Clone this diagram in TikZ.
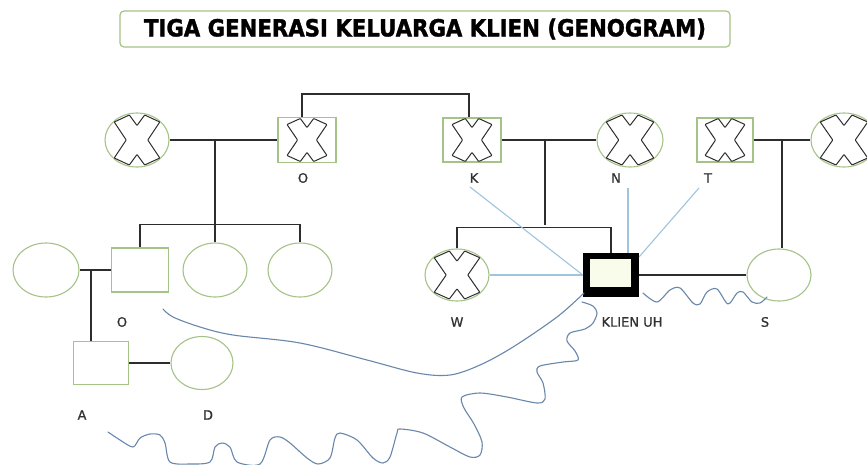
\documentclass[tikz,border=0pt]{standalone}
\usepackage{fontspec}
\usepackage{graphicx}
\setmainfont{DejaVu Sans}
\newfontfamily\lblfont[FakeBold=0.8]{DejaVu Sans}
\newfontfamily\ttlfont[FakeBold=1.5]{DejaVu Sans}
\usetikzlibrary{shapes.geometric,calc}
\definecolor{grn}{RGB}{165,195,135}
\definecolor{dk}{RGB}{45,45,45}
\definecolor{lbl}{RGB}{50,50,50}
\definecolor{lb}{RGB}{160,196,222}
\definecolor{cb}{RGB}{105,135,170}
\definecolor{cream}{RGB}{250,252,235}
\begin{document}
\begin{tikzpicture}[x=1pt,y=-1pt,
  fem/.style={ellipse,draw=grn,line width=1.1pt,fill=white,inner sep=0pt},
  mal/.style={rectangle,draw=grn,line width=1.1pt,fill=white,inner sep=0pt},
  rel/.style={draw=dk,line width=1.2pt},
  emo/.style={draw=lb,line width=1.1pt},
  wav/.style={draw=cb,line width=1.1pt,line join=round,line cap=round},
  lbl/.style={text=lbl,font=\lblfont\fontsize{13}{13}\selectfont,inner sep=0pt},
  xcross/.pic={\draw[dk,line width=1pt,fill=white,line join=round,rounded corners=0.6pt]
    (-0.95,0.72) -- (-0.32,1) -- (0,0.58) -- (0.32,1) -- (0.95,0.72) -- (0.45,0)
    -- (0.95,-0.72) -- (0.32,-1) -- (0,-0.58) -- (-0.32,-1) -- (-0.95,-0.72) -- (-0.45,0) -- cycle;}
]
\clip (0,0) rectangle (867,464);
\fill[white] (0,0) rectangle (867,464);

% title
\node[draw=grn,line width=1.2pt,rounded corners=4pt,fill=white,inner sep=0pt,
  minimum width=610pt,minimum height=36pt] (title) at (425,29)
  {\resizebox*{562pt}{21pt}{\ttlfont\bfseries TIGA GENERASI KELUARGA KLIEN (GENOGRAM)}};

% junction coordinates
\coordinate (m1) at (215,140);
\coordinate (s1) at (215,225);
\coordinate (m2) at (545,140);
\coordinate (s2) at (545,225);
\coordinate (m4) at (782,140);
\coordinate (m3) at (91,270);
\coordinate (kb) at (470,187);
\coordinate (nb) at (628,188);
\coordinate (tb) at (699,188);

% generation 1
\node[fem,minimum width=64pt,minimum height=54pt] (gpa) at (137,140) {};
\node[mal,minimum width=58pt,minimum height=45pt] (O) at (307,140) {};
\node[mal,minimum width=58pt,minimum height=44pt] (K) at (472,140) {};
\node[fem,minimum width=66pt,minimum height=54pt] (N) at (630,140) {};
\node[mal,minimum width=56pt,minimum height=44pt] (T) at (725,140) {};
\node[fem,minimum width=66pt,minimum height=54pt] (gpb) at (844,140) {};

% generation 2 left
\node[fem,minimum width=66pt,minimum height=54pt] (sp) at (46,270) {};
\node[mal,minimum width=57pt,minimum height=44pt] (O2) at (140,270) {};
\node[fem,minimum width=64pt,minimum height=54pt] (c2) at (215,270) {};
\node[fem,minimum width=64pt,minimum height=54pt] (c3) at (300,270) {};
\node[mal,minimum width=55pt,minimum height=43pt] (A) at (101,363) {};
\node[fem,minimum width=62pt,minimum height=53pt] (D) at (202,363) {};

% generation 2 right
\node[fem,minimum width=64pt,minimum height=52pt] (W) at (457,275) {};
\node[rectangle,fill=black,inner sep=0pt,minimum width=56pt,minimum height=44pt] (klien) at (611,275) {};
\fill[cream] ([xshift=7pt,yshift=-6pt]klien.north west) rectangle ([xshift=-8pt,yshift=10pt]klien.south east);
\node[fem,minimum width=64pt,minimum height=52pt] (S) at (779,275) {};

% X marks
\pic[xscale=24,yscale=25] at (gpa) {xcross};
\pic[xscale=21,yscale=21.5] at (O) {xcross};
\pic[xscale=21,yscale=21.5] at (K) {xcross};
\pic[xscale=25,yscale=25] at (N) {xcross};
\pic[xscale=21,yscale=21.5] at (T) {xcross};
\pic[xscale=25,yscale=25] at (gpb) {xcross};
\pic[xscale=24,yscale=24] at (W) {xcross};

% relationship lines
\draw[rel] ([xshift=-5pt]O.north) -- ++(0,-23) -| ([xshift=-3pt]K.north);
\draw[rel] (gpa.east) -- (O.west);
\draw[rel] (m1) -- (s1);
\draw[rel] (O2.north) -- ++(0,-23) -| (c3.north);
\draw[rel] (s1) -- (c2.north);
\draw[rel] (K.east) -- (N.west);
\draw[rel] (m2) -- (s2);
\draw[rel] (W.north) -- ++(0,-21) -| (klien.north);
\draw[rel] (T.east) -- (gpb.west);
\draw[rel] (m4) -- (m4 |- S.north);
\draw[rel] (sp.east) -- (O2.west);
\draw[rel] (m3) -- (m3 |- A.north);
\draw[rel] (A.east) -- (D.west);
\draw[rel] (klien.east) -- (S.west);

% emotional (blue) lines
\draw[emo] (kb) -- (klien.west);
\draw[emo] (nb) -- (nb |- klien.north);
\draw[emo] (tb) -- ([yshift=-4pt]klien.north east);
\draw[emo] (W.east) -- (klien.west);

% curved lines
\draw[wav] plot[smooth,tension=0.55] coordinates {(163,309) (173,317) (200,327) (233,335) (300,343) (367,360) (417,373) (450,375) (480,365) (513,347) (557,317) (584,293)};
\draw[wav] plot[smooth,tension=0.5] coordinates {(643,293) (657,302) (670,290) (680,288) (693,303) (700,304) (707,292) (717,289) (728,304) (737,293) (743,292) (752,302) (760,303) (767,297)};
\draw[wav] plot[smooth,tension=0.5] coordinates {(582,302) (593,306) (597,313) (593,323) (585,329) (570,333) (567,341) (575,351) (578,360) (563,362) (540,366) (537,372) (543,383) (545,399) (537,403) (507,397) (480,393) (462,397) (464,408) (474,424) (482,442) (480,455) (470,457) (450,447) (423,433) (400,429) (397,433) (390,457) (383,463) (373,458) (357,440) (340,433) (335,438) (330,458) (318,464) (307,458) (290,443) (280,437) (270,440) (260,464) (237,462) (230,447) (222,443) (215,447) (210,462) (190,464) (170,462) (165,443) (160,435) (150,434) (140,438) (133,447) (120,440) (108,432)};

% labels
\node[lbl] (lO) at (303,178) {O};
\node[lbl] (lK) at (474,178) {K};
\node[lbl] (lN) at (616,178) {N};
\node[lbl] (lT) at (708,178) {T};
\node[lbl] (lO2) at (122,322) {O};
\node[lbl] (lW) at (457,322) {W};
\node[lbl] (lKl) at (632,322) {KLIEN UH};
\node[lbl] (lS) at (765,322) {S};
\node[lbl] (lA) at (82,415) {A};
\node[lbl] (lD) at (208,415) {D};
\end{tikzpicture}
\end{document}
